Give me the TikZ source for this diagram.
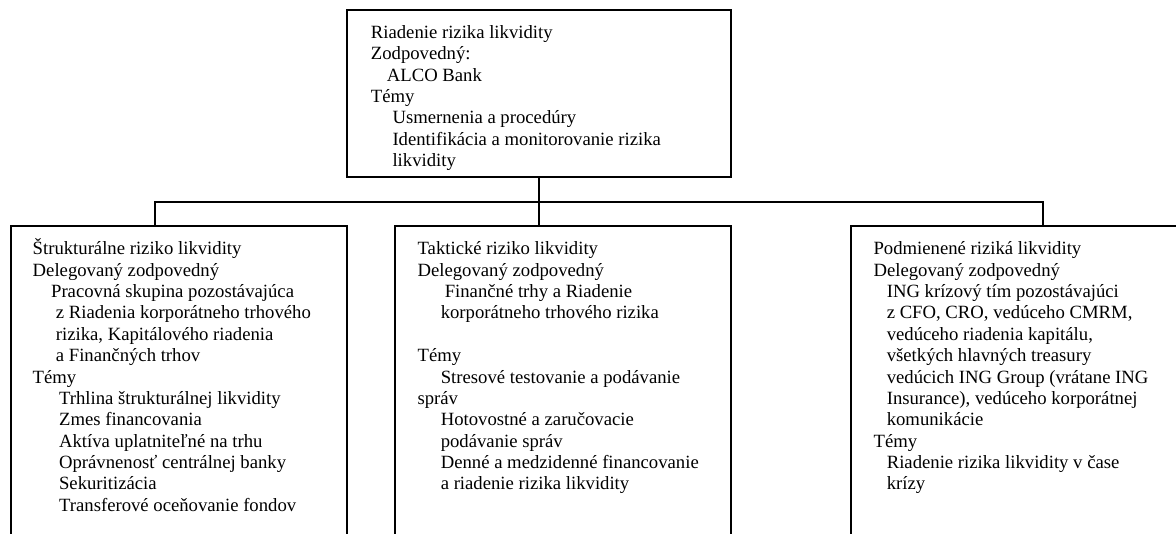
\documentclass[tikz,border=0pt]{standalone}
\usepackage{fontspec}
\setmainfont{Liberation Serif}
\usepackage{tikz}

\newcommand{\indt}[1]{\hspace*{#1}}
\newcommand{\firstln}{\rule{0pt}{12pt}}

\begin{document}
\begin{tikzpicture}[line width=1.4pt]
		\tikzstyle{box}=[draw,shape=rectangle,inner sep=0pt,outer sep=0pt,anchor=north west]
		\tikzstyle{boxtext}=[inner sep=0pt,anchor=north west,align=left,font=\fontsize{13.3pt}{15.2pt}\selectfont]
		
		\useasboundingbox (0,0) rectangle (29.4,-13.325);
		\clip (0,0) rectangle (29.4,-13.325);
		
		\node[box,minimum width=9.6cm,minimum height=4.18cm](top) at (8.668,-0.25){};
		\node[box,minimum width=8.41cm,minimum height=8.5cm](left) at (0.268,-5.66){};
		\node[box,minimum width=8.4cm,minimum height=8.5cm](mid) at (9.875,-5.66){};
		\node[box,minimum width=8.4cm,minimum height=8.5cm](right) at (21.275,-5.66){};
		
		\coordinate (barL) at (3.875,-5.06);
		\coordinate (barR) at (26.075,-5.06);
		
		\draw (top.south) -- (top.south |- mid.north);
		\draw (barL |- left.north) -- (barL) -- (barR) -- (barR |- right.north);
		
		\node[boxtext](topT) at ([shift={(0.58cm,-7.56pt)}]top.north west){\firstln Riadenie rizika likvidity\\
			Zodpovedný:\\
			\indt{0.4cm}ALCO Bank\\
			Témy\\
			\indt{0.54cm}Usmernenia a procedúry\\
			\indt{0.54cm}Identifikácia a monitorovanie rizika\\
			\indt{0.54cm}likvidity};
		
		\node[boxtext](leftT) at ([shift={(0.525cm,-7.56pt)}]left.north west){\firstln Štrukturálne riziko likvidity\\
			Delegovaný zodpovedný\\
			\indt{0.46cm}Pracovná skupina pozostávajúca\\
			\indt{0.58cm}z Riadenia korporátneho trhového\\
			\indt{0.58cm}rizika, Kapitálového riadenia\\
			\indt{0.58cm}a Finančných trhov\\
			Témy\\
			\indt{0.66cm}Trhlina štrukturálnej likvidity\\
			\indt{0.66cm}Zmes financovania\\
			\indt{0.66cm}Aktíva uplatniteľné na trhu\\
			\indt{0.66cm}Oprávnenosť centrálnej banky\\
			\indt{0.66cm}Sekuritizácia\\
			\indt{0.66cm}Transferové oceňovanie fondov};
		
		\node[boxtext](midT) at ([shift={(0.54cm,-7.56pt)}]mid.north west){\firstln Taktické riziko likvidity\\
			Delegovaný zodpovedný\\
			\indt{0.68cm}Finančné trhy a Riadenie\\
			\indt{0.58cm}korporátneho trhového rizika\\
			~\\
			Témy\\
			\indt{0.58cm}Stresové testovanie a podávanie\\
			správ\\
			\indt{0.58cm}Hotovostné a zaručovacie\\
			\indt{0.58cm}podávanie správ\\
			\indt{0.58cm}Denné a medzidenné financovanie\\
			\indt{0.58cm}a riadenie rizika likvidity};
		
		\node[boxtext](rightT) at ([shift={(0.54cm,-7.56pt)}]right.north west){\firstln Podmienené riziká likvidity\\
			Delegovaný zodpovedný\\
			\indt{0.33cm}ING krízový tím pozostávajúci\\
			\indt{0.33cm}z CFO, CRO, vedúceho CMRM,\\
			\indt{0.33cm}vedúceho riadenia kapitálu,\\
			\indt{0.33cm}všetkých hlavných treasury\\
			\indt{0.33cm}vedúcich ING Group (vrátane ING\\
			\indt{0.33cm}Insurance), vedúceho korporátnej\\
			\indt{0.33cm}komunikácie\\
			Témy\\
			\indt{0.33cm}Riadenie rizika likvidity v čase\\
			\indt{0.33cm}krízy};
\end{tikzpicture}
\end{document}
